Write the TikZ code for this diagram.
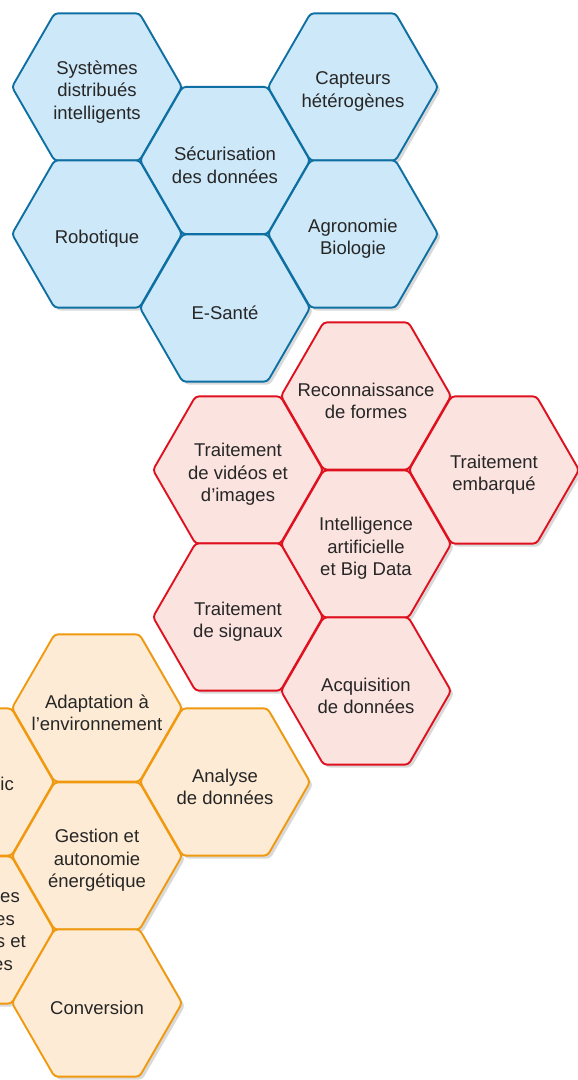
\documentclass[tikz,border=0pt]{standalone}
\usepackage{fontspec}
\setmainfont{Liberation Sans}
\usetikzlibrary{shapes.geometric,shadows}
\definecolor{bluedraw}{HTML}{0E6FA3}
\definecolor{bluefill}{HTML}{CDE8F8}
\definecolor{reddraw}{HTML}{E0111E}
\definecolor{redfill}{HTML}{FBE3E0}
\definecolor{orangedraw}{HTML}{F0990F}
\definecolor{orangefill}{HTML}{FDEBD5}

\begin{document}
\begin{tikzpicture}[x=0.03cm,y=-0.03cm,
  txt/.style={align=center,text=black!85,inner sep=0pt,yshift=-0.14cm,
    font=\fontsize{15.8}{19.2}\selectfont},
  hexa/.style={regular polygon,regular polygon sides=6,minimum size=5.1cm,inner sep=0pt,
    line width=1.6pt,rounded corners=3pt,label={[txt]center:#1},
    drop shadow={shadow xshift=2.5pt,shadow yshift=-2.5pt,opacity=0.3}},
  bluehex/.style={hexa={#1},draw=bluedraw,fill=bluefill},
  redhex/.style={hexa={#1},draw=reddraw,fill=redfill},
  orangehex/.style={hexa={#1},draw=orangedraw,fill=orangefill},
  cut/.style={txt,anchor=east,align=right}]
\useasboundingbox (0,0) rectangle (577,1080);

\node[bluehex={Systèmes\\distribués\\intelligents}] (systemes) at (97,87) {};
\node[bluehex={Robotique}] (robotique) at (97,234) {};
\node[bluehex={Sécurisation\\des données}] (securisation) at (225,160.5) {};
\node[bluehex={E-Santé}] (esante) at (225,308) {};
\node[bluehex={Capteurs\\hétérogènes}] (capteurs) at (353,87) {};
\node[bluehex={Agronomie\\Biologie}] (agronomie) at (353,234) {};

\node[redhex={Traitement\\de vidéos et\\d’images}] (videos) at (238,470) {};
\node[redhex={Traitement\\de signaux}] (signaux) at (238,617) {};
\node[redhex={Reconnaissance\\de formes}] (formes) at (366,396) {};
\node[redhex={Intelligence\\artificielle\\et Big Data}] (ia) at (366,544) {};
\node[redhex={Acquisition\\de données}] (acquisition) at (366,691) {};
\node[redhex={Traitement\\embarqué}] (embarque) at (494,470) {};

\node[orangehex={}] (gauchehaut) at (-31,782) {};
\node[orangehex={}] (gauchebas) at (-31,930) {};
\node[orangehex={Adaptation à\\l’environnement}] (adaptation) at (97,708) {};
\node[orangehex={Gestion et\\autonomie\\énergétique}] (gestion) at (97,856) {};
\node[orangehex={Conversion}] (conversion) at (97,1003) {};
\node[orangehex={Analyse\\de données}] (analyse) at (225,782) {};

\node[cut] (ichaut) at (14,779) {ic};
\node[cut] (esbas) at (26,927) {\mbox{es\hspace{0.18cm}}\\\mbox{es\hspace{0.33cm}}\\s et\\\mbox{es\hspace{0.39cm}}};
\end{tikzpicture}
\end{document}
